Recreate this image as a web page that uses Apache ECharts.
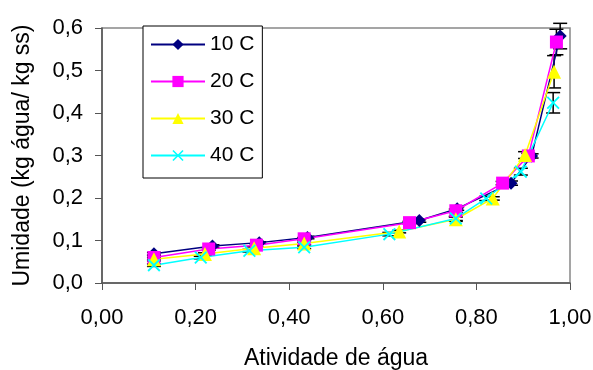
<!DOCTYPE html>
<html>
<head>
<meta charset="utf-8">
<script src="https://cdn.jsdelivr.net/npm/echarts@6/dist/echarts.min.js"></script>
<style>
  html, body { margin: 0; padding: 0; background: #fff; }
  #chart { width: 593px; height: 370px; }
</style>
</head>
<body>
<div id="chart"></div>
<script>
// water activity (x) and moisture (y) per temperature
const aw10 = [0.111, 0.236, 0.336, 0.439, 0.678, 0.759, 0.874, 0.918, 0.979];
const u10 = [0.069, 0.087, 0.095, 0.107, 0.147, 0.175, 0.235, 0.299, 0.581];
const e10 = [0.003, 0.003, 0.002, 0.003, 0.004, 0.004, 0.005, 0.005, 0.030];

const aw20 = [0.111, 0.228, 0.330, 0.432, 0.657, 0.756, 0.856, 0.911, 0.971];
const u20 = [0.060, 0.080, 0.089, 0.104, 0.142, 0.170, 0.235, 0.299, 0.567];
const e20 = [0.004, 0.003, 0.003, 0.003, 0.003, 0.004, 0.004, 0.006, 0.030];

const aw30 = [0.111, 0.220, 0.325, 0.432, 0.635, 0.756, 0.835, 0.904, 0.966];
const u30 = [0.056, 0.068, 0.082, 0.093, 0.121, 0.150, 0.199, 0.301, 0.497];
const e30 = [0.004, 0.003, 0.003, 0.003, 0.003, 0.005, 0.004, 0.008, 0.038];

const aw40 = [0.111, 0.211, 0.315, 0.432, 0.614, 0.756, 0.821, 0.895, 0.964];
const u40 = [0.042, 0.060, 0.076, 0.084, 0.115, 0.152, 0.199, 0.262, 0.424];
const e40 = [0.003, 0.003, 0.003, 0.003, 0.004, 0.005, 0.005, 0.008, 0.024];

const names = ["10 C", "20 C", "30 C", "40 C"];
const colors = ["#000080", "#FF00FF", "#FFFF00", "#00FFFF"];
const symbols = [
  "diamond",
  "rect",
  "triangle",
  "path://M0,1L1,0L5,4L9,0L10,1L6,5L10,9L9,10L5,6L1,10L0,9L4,5Z"
];
const sizes = [13, 13, 14, 13];

const xs = [aw10, aw20, aw30, aw40];
const ys = [u10, u20, u30, u40];
const es = [e10, e20, e30, e40];

const FONT = "Liberation Sans";

const chart = echarts.init(document.getElementById("chart"));

// error bars drawn through the axis scales
const errSeries = xs.map((x, i) => ({
  type: "custom",
  name: names[i] + " err",
  clip: false,
  z: 1,
  silent: true,
  data: x.map((v, j) => [v, ys[i][j] - es[i][j], ys[i][j] + es[i][j]]),
  renderItem: (params, api) => {
    const lo = api.coord([api.value(0), api.value(1)]);
    const hi = api.coord([api.value(0), api.value(2)]);
    const w = 7;
    const st = { stroke: "#000", lineWidth: 1.5 };
    return {
      type: "group",
      children: [
        { type: "line", shape: { x1: lo[0], y1: lo[1], x2: hi[0], y2: hi[1] }, style: st },
        { type: "line", shape: { x1: lo[0] - w, y1: lo[1], x2: lo[0] + w, y2: lo[1] }, style: st },
        { type: "line", shape: { x1: hi[0] - w, y1: hi[1], x2: hi[0] + w, y2: hi[1] }, style: st }
      ]
    };
  }
}));

const lineSeries = xs.map((x, i) => ({
  type: "line",
  name: names[i],
  z: 3,
  data: x.map((v, j) => [v, ys[i][j]]),
  symbol: symbols[i],
  symbolSize: sizes[i],
  showAllSymbol: true,
  lineStyle: { color: colors[i], width: 1.5 },
  itemStyle: { color: colors[i] },
  emphasis: { disabled: true }
}));

chart.setOption({
  animation: false,
  textStyle: { fontFamily: FONT, color: "#000" },
  grid: {
    left: 102, right: 23, top: 28, bottom: 87,
    outerBoundsMode: "none",
    show: true, borderColor: "#888", borderWidth: 1.5
  },
  legend: {
    data: names,
    orient: "vertical",
    left: 143,
    top: 26,
    width: 116,
    padding: [8, 8, 12, 7],
    itemWidth: 54,
    itemHeight: 14,
    itemGap: 16,
    backgroundColor: "#fff",
    borderColor: "#000",
    borderWidth: 1,
    textStyle: { fontFamily: FONT, fontSize: 21, color: "#000" }
  },
  xAxis: {
    type: "value",
    min: 0, max: 1, interval: 0.2,
    name: "Atividade de água",
    nameLocation: "middle",
    nameGap: 64,
    nameTextStyle: { fontFamily: FONT, fontSize: 23, color: "#000" },
    axisLine: { lineStyle: { color: "#555", width: 1.5 } },
    axisTick: { inside: false, length: 7, lineStyle: { color: "#555" } },
    splitLine: { show: false },
    axisLabel: {
      fontFamily: FONT, fontSize: 22, color: "#000", margin: 24,
      formatter: v => v.toFixed(2).replace(".", ",")
    }
  },
  yAxis: {
    type: "value",
    min: 0, max: 0.6, interval: 0.1,
    name: "Umidade (kg água/ kg ss)",
    nameLocation: "middle",
    nameGap: 68,
    nameRotate: 90,
    nameTextStyle: { fontFamily: FONT, fontSize: 23, color: "#000" },
    axisLine: { show: true, lineStyle: { color: "#555", width: 1.5 } },
    axisTick: { show: true, inside: false, length: 7, lineStyle: { color: "#555" } },
    splitLine: { show: false },
    axisLabel: {
      fontFamily: FONT, fontSize: 22, color: "#000", margin: 19,
      formatter: v => v.toFixed(1).replace(".", ",")
    }
  },
  series: [...errSeries, ...lineSeries]
});
</script>
</body>
</html>
